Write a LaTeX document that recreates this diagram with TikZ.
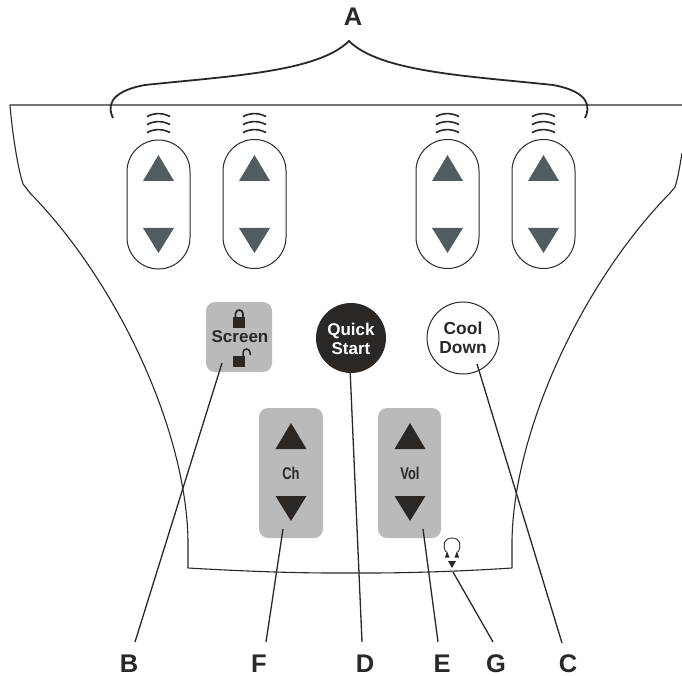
\documentclass[tikz,border=0pt]{standalone}
\usepackage{fontspec}
\setmainfont{Liberation Sans}
\definecolor{ink}{HTML}{2B2725}
\definecolor{slate}{HTML}{505C5E}
\definecolor{pad}{HTML}{BABABA}
\tikzset{
  outline/.style={draw=ink,line width=1.1pt,line join=round},
  leader/.style={draw=ink,line width=1.3pt},
  letter/.style={font=\fontsize{25.5}{26}\selectfont\bfseries,text=ink,inner sep=0pt},
  capsule/.style={draw=ink,line width=1pt,fill=white,rounded corners=31.5pt,minimum width=63pt,minimum height=129pt,inner sep=0pt},
  padbox/.style={fill=pad,rounded corners=9pt,inner sep=0pt},
  padlabel/.style={font=\fontsize{17}{18}\selectfont\bfseries,text=ink,inner sep=0pt},
  wave/.style={draw=ink,line width=1.6pt},
}
\newcommand{\upTri}[3]{\fill[#3] (#1-15.5,#2) -- (#1+15.5,#2) -- (#1,#2-26) -- cycle;}
\newcommand{\downTri}[3]{\fill[#3] (#1-15.5,#2) -- (#1+15.5,#2) -- (#1,#2+25) -- cycle;}
\newcommand{\waves}[1]{\foreach \yy in {114.6,122.6,130.6}{\draw[wave] (#1-11.5,\yy+2) .. controls (#1-4,\yy-2) and (#1+4,\yy-2) .. (#1+11.5,\yy+2);}}
\begin{document}
\begin{tikzpicture}[x=1pt,y=-1pt]
\useasboundingbox (0,0) rectangle (682,676);
% housing
\draw[outline] (682,153) .. controls (680,165) and (678,178) .. (675,187) -- (670,193)
  .. controls (582,283) and (514,430) .. (512,540) -- (512,568)
  .. controls (450,572) and (400,573) .. (368,573) -- (334,573)
  .. controls (290,573) and (240,571) .. (188,568) -- (188,540)
  .. controls (186,430) and (118,283) .. (30,193) -- (23,184)
  .. controls (17,165) and (12,130) .. (10,105) -- (682,105);
% brace
\draw[ink,line width=1.8pt] (113,118) .. controls (108,108) and (107,92) .. (145,85)
  .. controls (230,76) and (318,72) .. (349,41)
  .. controls (380,72) and (468,76) .. (553,85)
  .. controls (591,92) and (590,108) .. (585,118);
% capsules
\node[capsule] (c1) at (158.5,204.5) {};
\node[capsule] (c2) at (254.5,204) {};
\node[capsule] (c3) at (447.5,204) {};
\node[capsule] (c4) at (543.5,204) {};
\foreach \cx in {158.5,254.5,447.5,543.5}{
  \upTri{\cx}{181}{slate}
  \downTri{\cx}{228}{slate}
}
\waves{158.5}\waves{254.5}\waves{447.5}\waves{543.5}
% screen pad
\node[padbox,minimum width=66pt,minimum height=70pt] (screen) at (239,337) {};
\node[font=\fontsize{17}{18}\selectfont\bfseries,text=ink,inner sep=0pt] (screentext) at (240,337) {Screen};
\fill[ink] (233,317) rectangle (245,328);
\draw[ink,line width=1.7pt] (235.5,317) -- (235.5,313.75) arc[start angle=180,end angle=360,radius=3.75] -- (243,317);
\fill[ink] (233,356) rectangle (245,367);
\draw[ink,line width=1.5pt] (243,356) -- (243,352.5) arc[start angle=180,end angle=360,radius=3.5] -- (250,355);
% round buttons
\node[circle,fill=ink,minimum size=70pt,inner sep=0pt] (quick) at (351,338) {};
\node[font=\fontsize{17}{18.5}\selectfont\bfseries,text=white,align=center,inner sep=0pt] (quicktext) at (351,339) {Quick\\Start};
\node[circle,draw=ink,line width=1pt,fill=white,minimum size=72pt,inner sep=0pt] (cool) at (463,338) {};
\node[font=\fontsize{17.4}{18.5}\selectfont\bfseries,text=ink,align=center,inner sep=0pt] (cooltext) at (463,338) {Cool\\Down};
% channel and volume pads
\node[padbox,minimum width=64pt,minimum height=130pt] (ch) at (291,473) {};
\node[padbox,minimum width=63pt,minimum height=130pt] (vol) at (409.5,473) {};
\upTri{291}{449}{ink}\downTri{291}{496}{ink}
\upTri{410}{449}{ink}\downTri{410}{496}{ink}
\node[padlabel] (chtext) at (291,473) {\scalebox{0.76}[1]{Ch}};
\node[padlabel] (voltext) at (410,473) {\scalebox{0.76}[1]{Vol}};
% headphone
\draw[ink,line width=0.9pt] (446,552) .. controls (442,545) and (444,538) .. (452,538) .. controls (460,538) and (462,545) .. (458,552);
\fill[ink] (445,557.5) -- (449.5,557.5) -- (447,551) -- cycle;
\fill[ink] (454.5,557.5) -- (459,557.5) -- (457,551) -- cycle;
\fill[ink] (448,561) -- (456,561) -- (452,568) -- cycle;
\coordinate (hp) at (453,572);
% labels
\node[letter] (A) at (353,17) {A};
\node[letter] (B) at (129,664) {B};
\node[letter] (F) at (259,664) {F};
\node[letter] (D) at (365,664) {D};
\node[letter] (E) at (442,664) {E};
\node[letter] (G) at (496,664) {G};
\node[letter] (C) at (568,664) {C};
% leader ends
\coordinate (bs) at (222,363); \coordinate (be) at (135,642);
\coordinate (fs) at (283,529); \coordinate (fe) at (266,642);
\coordinate (ds) at (350,368); \coordinate (de) at (362,642);
\coordinate (es) at (423,529); \coordinate (ee) at (438,642);
\coordinate (ge) at (493,642);
\coordinate (cs) at (477,364); \coordinate (ce) at (562,643);
\draw[leader] (bs) -- (be);
\draw[leader] (fs) -- (fe);
\draw[leader] (ds) -- (de);
\draw[leader] (es) -- (ee);
\draw[leader] (hp) -- (ge);
\draw[leader] (cs) -- (ce);
\end{tikzpicture}
\end{document}
